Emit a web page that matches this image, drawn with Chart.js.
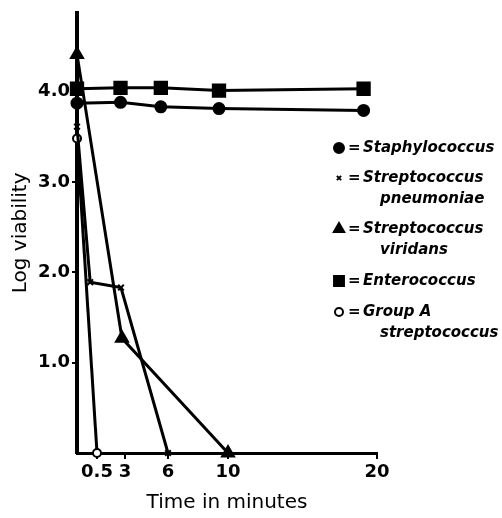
<!DOCTYPE html>
<html lang="en">
<head>
    <meta charset="UTF-8">
    <script src="https://cdn.jsdelivr.net/npm/chart.js"></script>
    <title>Log viability</title>
    <style>
        html, body { margin: 0; padding: 0; background: #fff; }
        .container { width: 502px; height: 518px; }
    </style>
</head>
<body>
    <div class="container">
        <canvas id="myChart"></canvas>
    </div>
    <script>
        // values (time in minutes, log viability)
        const xTicks = [0.5, 3, 6, 10, 20];
        const yTicks = [1, 2, 3, 4];

        const staphTime = [0, 2.6, 5.5, 9.4, 19.1];
        const staphLog  = [3.87, 3.88, 3.83, 3.81, 3.79];

        const pneumoTime = [0, 0.33, 2.64, 6];
        const pneumoLog  = [3.61, 1.89, 1.83, 0];

        const viridansTime = [0, 2.73, 10];
        const viridansLog  = [4.41, 1.27, 0];

        const enteroTime = [0, 2.6, 5.5, 9.4, 19.1];
        const enteroLog  = [4.03, 4.04, 4.04, 4.01, 4.03];

        const groupATime = [0, 0.5];
        const groupALog  = [3.48, 0];

        const legendNames = [
            ['Staphylococcus'],
            ['Streptococcus', 'pneumoniae'],
            ['Streptococcus', 'viridans'],
            ['Enterococcus'],
            ['Group A', 'streptococcus']
        ];

        // the time axis of the original is not evenly drawn: warp it piecewise
        const knotMin = [0, 0.5, 3, 6, 10, 20];
        const knotDec = [0, 20/300, 48/300, 91/300, 151/300, 1];

        function interp(v, from, to) {
            if (v <= from[0]) return to[0] + (v - from[0]) * (to[1] - to[0]) / (from[1] - from[0]);
            for (let i = 1; i < from.length; i++) {
                if (v <= from[i]) {
                    return to[i-1] + (v - from[i-1]) * (to[i] - to[i-1]) / (from[i] - from[i-1]);
                }
            }
            const n = from.length - 1;
            return to[n] + (v - from[n]) * (to[n] - to[n-1]) / (from[n] - from[n-1]);
        }

        class PiecewiseScale extends Chart.LinearScale {
            getPixelForValue(value) {
                return this.getPixelForDecimal(interp(value, knotMin, knotDec));
            }
            getValueForPixel(pixel) {
                return interp(this.getDecimalForPixel(pixel), knotDec, knotMin);
            }
        }
        PiecewiseScale.id = 'piecewise';
        PiecewiseScale.defaults = Chart.LinearScale.defaults;
        Chart.register(PiecewiseScale);

        function pts(xs, ys) {
            return xs.map((x, i) => ({ x: x, y: ys[i] }));
        }

        const datasets = [
            { label: 'Staphylococcus', data: pts(staphTime, staphLog),
              pointStyle: 'circle', pointRadius: 5, pointBackgroundColor: '#000' },
            { label: 'Streptococcus pneumoniae', data: pts(pneumoTime, pneumoLog),
              pointStyle: 'crossRot', pointRadius: 4, pointBorderWidth: 2 },
            { label: 'Streptococcus viridans', data: pts(viridansTime, viridansLog),
              pointStyle: 'triangle', pointRadius: 6, pointBackgroundColor: '#000' },
            { label: 'Enterococcus', data: pts(enteroTime, enteroLog),
              pointStyle: 'rect', pointRadius: 8, pointBackgroundColor: '#000' },
            { label: 'Group A streptococcus', data: pts(groupATime, groupALog),
              pointStyle: 'circle', pointRadius: 4, pointBackgroundColor: '#fff', pointBorderWidth: 2 }
        ];
        datasets.forEach(function(d) {
            d.borderColor = '#000';
            d.borderWidth = 3;
            d.pointBorderColor = '#000';
            d.tension = 0;
            d.clip = false;
        });

        // side legend, drawn by hand like the original key
        const keyPlugin = {
            id: 'key',
            afterDraw(chart) {
                const ctx = chart.ctx;
                const rows = [148, 178, 229, 281, 312];
                const markers = [
                    { pointStyle: 'circle', radius: 5, fill: '#000' },
                    { pointStyle: 'crossRot', radius: 3, fill: '#000' },
                    { pointStyle: 'triangle', radius: 6, fill: '#000' },
                    { pointStyle: 'rect', radius: 7, fill: '#000' },
                    { pointStyle: 'circle', radius: 4, fill: '#fff' }
                ];
                ctx.save();
                ctx.font = 'italic bold 15px "DejaVu Sans"';
                ctx.textBaseline = 'middle';
                ctx.fillStyle = '#000';
                legendNames.forEach(function(lines, i) {
                    const m = markers[i];
                    ctx.fillStyle = m.fill;
                    ctx.strokeStyle = '#000';
                    ctx.lineWidth = 2;
                    Chart.helpers.drawPoint(ctx, { pointStyle: m.pointStyle, radius: m.radius, borderWidth: 2, rotation: 0 }, 339, rows[i]);
                    ctx.fillStyle = '#000';
                    ctx.fillText('=', 348, rows[i]);
                    ctx.fillText(lines[0], 363, rows[i]);
                    if (lines[1]) ctx.fillText(lines[1], 380, rows[i] + 21);
                });
                ctx.restore();
            }
        };

        const ctx = document.getElementById('myChart');
        new Chart(ctx, {
            type: 'line',
            data: { datasets: datasets },
            options: {
                responsive: true,
                maintainAspectRatio: false,
                animation: false,
                layout: { padding: { top: 8, right: 125, left: 0, bottom: 0 } },
                plugins: { legend: { display: false }, tooltip: { enabled: false } },
                scales: {
                    x: {
                        type: 'piecewise',
                        min: 0,
                        max: 20,
                        afterBuildTicks: function(s) { s.ticks = xTicks.map(v => ({ value: v })); },
                        afterFit: function(s) { s.height = 65; },
                        border: { display: true, color: '#000', width: 3 },
                        grid: { drawOnChartArea: false, drawTicks: true, tickLength: 6, color: '#000', lineWidth: 2 },
                        ticks: {
                            color: '#000', padding: 3, maxRotation: 0, autoSkip: false,
                            font: { family: 'DejaVu Sans', size: 18, weight: 'bold' },
                            callback: function(v) { return String(v); }
                        },
                        title: {
                            display: true, text: 'Time in minutes', color: '#000',
                            font: { family: 'DejaVu Sans', size: 20 },
                            padding: { top: 0, bottom: 3 }
                        }
                    },
                    y: {
                        min: 0,
                        max: 4.87,
                        afterBuildTicks: function(s) { s.ticks = yTicks.map(v => ({ value: v })); },
                        afterFit: function(s) { s.width = 77; },
                        border: { display: true, color: '#000', width: 4 },
                        grid: { drawOnChartArea: false, drawTicks: true, tickLength: 5, color: '#000', lineWidth: 2 },
                        ticks: {
                            color: '#000', padding: 2,
                            font: { family: 'DejaVu Sans', size: 18, weight: 'bold' },
                            callback: function(v) { return v.toFixed(1); }
                        },
                        title: {
                            display: true, text: 'Log viability', color: '#000',
                            font: { family: 'DejaVu Sans', size: 20 },
                            padding: { top: 9, bottom: 0 }
                        }
                    }
                }
            },
            plugins: [keyPlugin]
        });
    </script>
</body>
</html>
